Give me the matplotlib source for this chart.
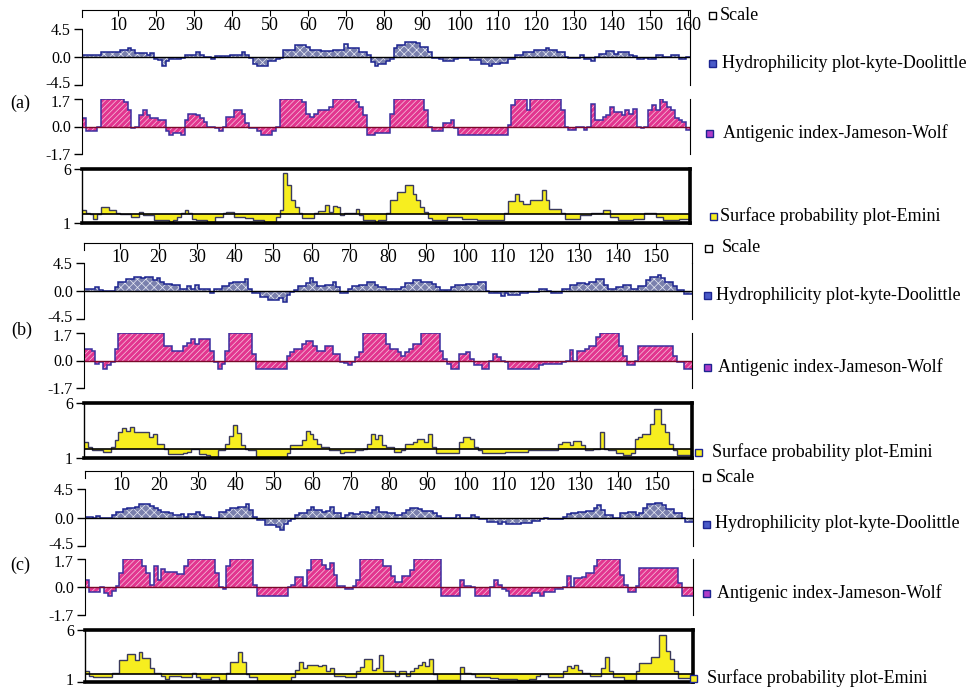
import numpy as np
import matplotlib.pyplot as plt
from matplotlib.transforms import ScaledTranslation

plt.rcParams['font.family'] = ['Liberation Serif', 'DejaVu Serif']
plt.rcParams['hatch.linewidth'] = 0.5

W, H = 972, 690

# residue-by-residue values
a_hyd = [0.4, 0.4, 0.4, 0.4, 0.4, 0.8, 0.8, 0.8, 0.8, 0.8,
         1.1, 1.1, 1.5, 1.1, 0.6, 0.6, 0.6, 0.3, 0.6, -0.3,
         -0.5, -1.4, -0.7, -0.3, -0.3, -0.3, -0.1, 0.3, 0.3, 0.3,
         0.8, 0.4, 0.0, 0.0, -0.3, 0.1, 0.1, 0.1, 0.1, 0.4,
         0.4, 0.4, 0.8, 0.4, -0.1, -1.1, -1.4, -1.4, -1.4, -0.7,
         -0.7, -0.3, -0.1, 1.1, 1.1, 1.1, 1.9, 1.9, 1.9, 1.6,
         1.1, 1.1, 1.1, 0.9, 0.9, 0.9, 1.1, 1.1, 1.1, 2.1,
         1.5, 1.5, 1.5, 0.8, 0.8, 0.3, -0.8, -1.5, -1.1, -1.1,
         -0.7, -0.3, 1.4, 1.9, 1.9, 2.4, 2.4, 2.4, 2.2, 1.6,
         1.6, 0.8, -0.1, -0.1, -0.4, -0.7, -0.7, -0.7, -0.4, -0.1,
         -0.1, -0.1, -0.5, -0.5, -0.5, -1.1, -1.1, -1.5, -1.1, -1.1,
         -1.0, -1.0, -0.4, -0.4, 0.3, 0.3, 0.8, 0.8, 0.8, 1.2,
         1.2, 1.2, 1.4, 1.2, 1.2, 0.8, 0.8, 0.0, -0.1, -0.1,
         -0.1, 0.3, -0.3, -0.3, -0.7, 0.0, 0.5, 0.5, 1.0, 1.0,
         0.5, 0.8, 0.8, 0.8, 0.4, 0.1, -0.4, -0.4, -0.1, -0.3,
         -0.3, 0.3, 0.3, 0.0, 0.0, 0.3, 0.3, -0.3, -0.3, 0.0]
a_ant = [0.5, -0.3, -0.3, -0.3, 0.0, 1.7, 1.7, 1.7, 1.7, 1.7,
         1.7, 1.5, 1.0, -0.1, 0.0, 0.7, 1.0, 0.7, 0.5, 0.5,
         0.4, 0.4, -0.3, -0.5, -0.4, -0.4, -0.5, 0.4, 0.8, 0.8,
         0.7, 0.5, 0.3, 0.0, 0.0, -0.1, -0.3, 0.0, 0.6, 0.6,
         1.0, 1.0, 0.8, 0.2, -0.1, -0.1, -0.3, -0.5, -0.5, -0.5,
         -0.3, 0.0, 1.7, 1.7, 1.7, 1.7, 1.7, 1.7, 1.5, 0.8,
         0.6, 0.8, 1.0, 1.0, 1.0, 1.2, 1.7, 1.7, 1.7, 1.7,
         1.7, 1.7, 1.5, 1.2, 0.7, -0.5, -0.5, -0.4, -0.4, -0.4,
         -0.4, 0.8, 1.7, 1.7, 1.7, 1.7, 1.7, 1.7, 1.7, 1.7,
         1.0, 0.0, -0.3, -0.3, -0.3, 0.2, 0.2, 0.4, -0.1, -0.5,
         -0.5, -0.5, -0.5, -0.5, -0.5, -0.5, -0.5, -0.5, -0.5, -0.5,
         -0.5, -0.5, 0.1, 1.3, 1.7, 1.7, 1.7, 1.0, 1.7, 1.7,
         1.7, 1.7, 1.7, 1.7, 1.7, 1.7, 1.0, 0.0, -0.2, -0.2,
         0.0, 0.0, -0.2, 0.0, 1.4, 0.4, 0.4, 0.6, 0.7, 1.2,
         0.9, 0.9, 0.7, 1.0, 0.8, 1.1, 0.0, -0.1, 0.0, 1.0,
         1.3, 1.0, 1.7, 1.5, 1.2, 1.0, 0.5, 0.4, 0.3, -0.2]
a_sur = [2.2, 1.9, 1.8, 1.4, 1.8, 2.5, 2.5, 2.2, 2.2, 1.9,
         1.8, 1.8, 1.8, 1.6, 1.6, 2.0, 1.7, 1.7, 1.7, 1.25,
         1.25, 1.25, 1.25, 1.1, 1.25, 1.6, 1.9, 2.2, 1.9, 1.4,
         1.25, 1.25, 1.25, 1.1, 1.1, 1.6, 1.6, 1.9, 2.0, 2.0,
         1.6, 1.6, 1.6, 1.5, 1.5, 1.25, 1.25, 1.25, 1.1, 1.1,
         1.1, 1.6, 2.2, 5.6, 4.5, 3.1, 2.5, 1.9, 1.5, 1.5,
         1.5, 1.9, 2.1, 2.1, 2.7, 2.0, 2.6, 2.5, 1.7, 1.9,
         1.9, 1.9, 2.3, 1.7, 1.25, 1.25, 1.25, 1.0, 1.25, 1.25,
         1.9, 3.1, 3.1, 3.9, 3.9, 4.5, 4.5, 3.7, 3.1, 2.5,
         2.0, 1.5, 1.25, 1.25, 1.25, 1.25, 1.6, 1.6, 1.6, 1.6,
         1.4, 1.4, 1.4, 1.4, 1.25, 1.25, 1.25, 1.25, 1.25, 1.25,
         1.25, 1.9, 3.0, 3.0, 3.7, 3.0, 2.8, 2.8, 3.1, 3.1,
         3.1, 4.1, 3.1, 2.3, 2.3, 2.3, 1.9, 1.4, 1.4, 1.4,
         1.4, 1.7, 1.7, 1.7, 1.9, 1.9, 1.9, 2.2, 2.2, 1.6,
         1.6, 1.25, 1.25, 1.25, 1.25, 1.4, 1.4, 1.4, 1.9, 1.9,
         1.9, 1.6, 1.6, 1.25, 1.25, 1.25, 1.25, 1.4, 1.4, 1.4]

b_hyd = [0.3, 0.3, 0.3, 0.7, 0.2, 0.0, 0.0, 0.0, 0.7, 1.5,
         1.5, 1.9, 1.9, 2.2, 2.2, 2.1, 2.3, 2.3, 1.8, 2.1,
         1.5, 1.1, 1.1, 0.9, 0.9, 0.4, 0.4, 0.8, 0.4, 1.0,
         0.3, 0.3, 0.3, -0.4, 0.4, 0.4, 0.8, 0.8, 1.25, 1.5,
         1.5, 1.4, 1.9, 0.4, -0.4, -0.4, -0.9, -0.9, -1.5, -1.5,
         -1.5, -1.2, -1.7, -0.7, -0.1, 0.2, 0.8, 0.8, 1.25, 2.1,
         1.4, 0.8, 0.8, 1.0, 1.0, 1.4, 0.7, -0.3, -0.3, 0.4,
         0.8, 0.8, 1.0, 1.0, 1.4, 1.4, 1.0, 0.6, 0.6, 0.4,
         0.4, 0.3, 0.3, 0.7, 1.25, 1.25, 1.8, 1.8, 1.5, 1.4,
         1.4, 1.1, 0.6, 0.2, 0.2, 0.2, 0.7, 1.0, 1.0, 1.0,
         1.1, 1.1, 1.1, 1.4, 1.4, 0.0, -0.4, -0.4, -0.4, -0.8,
         -0.4, -0.65, -0.65, -0.65, -0.4, -0.4, -0.1, -0.1, -0.1, 0.3,
         0.3, 0.0, -0.3, -0.3, -0.3, 0.4, 0.4, 1.0, 1.0, 1.25,
         1.25, 1.1, 1.4, 1.4, 1.9, 1.9, 1.0, 0.3, 0.3, 0.6,
         0.6, 1.0, 1.0, 0.4, 0.4, 0.8, 0.8, 1.8, 2.3, 2.3,
         2.5, 2.1, 1.4, 1.4, 0.8, 0.2, 0.2, -0.5, -0.5]
b_ant = [0.7, 0.7, 0.6, -0.2, -0.1, -0.5, -0.3, -0.1, 0.7, 1.7,
         1.7, 1.7, 1.7, 1.7, 1.7, 1.7, 1.7, 1.7, 1.7, 1.7,
         1.7, 0.9, 0.9, 0.6, 0.6, 0.6, 0.9, 1.1, 1.35, 1.0,
         1.3, 1.3, 1.3, 0.6, -0.1, -0.5, -0.2, 0.6, 1.7, 1.7,
         1.7, 1.7, 1.7, 1.7, 0.4, -0.5, -0.5, -0.5, -0.5, -0.5,
         -0.5, -0.5, -0.5, 0.25, 0.5, 0.7, 0.7, 1.0, 1.2, 1.2,
         0.9, 0.6, 0.6, 0.9, 0.9, 0.4, 0.4, -0.1, -0.15, -0.3,
         -0.1, 0.2, 0.5, 1.7, 1.7, 1.7, 1.7, 1.7, 1.7, 1.0,
         0.7, 0.7, 0.5, 0.3, 0.5, 0.7, 1.0, 1.0, 1.7, 1.7,
         1.7, 1.7, 1.7, 0.6, 0.1, -0.2, -0.5, -0.5, 0.4, 0.4,
         0.5, 0.1, -0.3, -0.3, -0.5, -0.5, 0.0, 0.4, 0.2, 0.0,
         -0.1, -0.5, -0.5, -0.5, -0.5, -0.5, -0.5, -0.5, -0.5, -0.3,
         -0.2, -0.2, -0.2, -0.2, -0.2, -0.1, 0.0, 0.65, 0.0, 0.6,
         0.6, 0.7, 0.9, 0.9, 1.45, 1.7, 1.7, 1.7, 1.7, 1.7,
         0.9, 0.3, -0.25, -0.25, 0.0, 0.9, 0.9, 0.9, 0.9, 0.9,
         0.9, 0.9, 0.9, 0.9, 0.3, -0.1, -0.1, -0.5, -0.5]
b_sur = [2.45, 2.0, 1.7, 1.7, 1.7, 1.55, 1.55, 2.0, 2.6, 3.4,
         3.7, 3.5, 3.8, 3.4, 3.4, 3.4, 3.4, 2.9, 3.2, 2.3,
         2.3, 1.85, 1.4, 1.4, 1.4, 1.4, 1.45, 1.55, 1.85, 1.85,
         1.4, 1.4, 1.3, 1.1, 1.1, 1.7, 1.7, 2.3, 3.0, 4.0,
         3.3, 2.15, 1.85, 1.75, 1.75, 1.0, 1.0, 1.0, 1.0, 1.0,
         1.0, 1.0, 1.0, 1.45, 2.15, 2.15, 2.15, 2.6, 3.5, 3.2,
         2.75, 2.3, 2.0, 2.0, 1.7, 1.7, 1.7, 1.45, 1.55, 1.55,
         1.55, 1.7, 1.7, 1.85, 2.3, 3.15, 2.75, 3.05, 2.15, 2.0,
         2.0, 1.55, 1.55, 1.7, 2.3, 2.3, 2.45, 2.75, 2.75, 2.45,
         3.2, 2.0, 1.45, 1.45, 1.45, 1.45, 1.45, 1.45, 2.45, 2.9,
         2.9, 2.75, 2.0, 1.7, 1.45, 1.45, 1.45, 1.45, 1.45, 1.45,
         1.55, 1.55, 1.55, 1.55, 1.55, 1.55, 1.7, 1.7, 1.7, 1.7,
         1.7, 1.7, 1.7, 1.7, 2.3, 2.45, 2.45, 2.15, 2.55, 2.55,
         2.15, 1.7, 1.7, 1.85, 1.85, 3.35, 1.85, 1.7, 1.7, 1.45,
         1.45, 1.25, 1.25, 1.45, 2.75, 2.9, 3.2, 3.2, 4.1, 5.5,
         5.5, 4.1, 3.35, 2.3, 1.7, 1.3, 1.3, 1.3, 1.3]

c_hyd = [0.1, 0.1, -0.15, 0.2, -0.15, -0.15, -0.15, 0.4, 0.9, 0.9,
         1.3, 1.45, 1.45, 1.7, 2.1, 2.1, 2.1, 1.8, 1.45, 1.2,
         0.9, 0.9, 0.65, 0.4, 0.4, 0.5, 0.1, 0.5, 0.5, 0.9,
         0.4, 0.1, 0.1, -0.15, 0.0, 0.9, 0.9, 1.2, 1.45, 1.45,
         1.7, 1.7, 2.1, 1.2, 0.1, -0.4, -0.4, -1.2, -1.2, -1.2,
         -1.5, -1.9, -1.0, -0.5, -0.3, 0.4, 0.65, 0.65, 1.2, 1.7,
         1.2, 1.2, 0.9, 1.1, 1.6, 0.65, 0.65, 0.0, 0.4, 0.65,
         0.5, 0.5, 0.9, 0.9, 0.65, 1.2, 1.7, 0.9, 0.9, 0.65,
         0.65, 0.4, 0.4, 0.75, 1.2, 1.45, 1.45, 1.3, 1.1, 1.1,
         1.1, 0.75, 0.2, 0.0, 0.0, 0.0, 0.0, 0.4, 0.0, 0.0,
         -0.15, 0.4, 0.1, -0.3, -0.3, -0.7, -0.7, -0.7, -1.1, -0.7,
         -1.1, -1.1, -1.0, -1.0, -0.85, -0.85, -0.85, -0.5, -0.5, -0.3,
         0.0, -0.3, -0.3, -0.3, -0.3, 0.1, 0.5, 0.75, 0.75, 0.9,
         0.9, 1.1, 1.1, 1.45, 2.0, 1.2, 0.4, 0.4, 0.0, 0.0,
         0.75, 0.75, 0.9, 0.9, 0.4, 0.75, 1.45, 2.1, 2.1, 2.35,
         2.35, 2.0, 1.3, 1.3, 0.65, 0.65, 0.0, -0.7, -0.7]
c_ant = [0.45, -0.3, -0.3, -0.3, 0.0, -0.35, -0.55, -0.25, 0.05, 0.85,
         1.7, 1.7, 1.7, 1.7, 1.7, 1.25, 0.85, 0.15, 1.25, 0.45,
         1.1, 0.9, 0.9, 0.9, 0.8, 0.8, 1.25, 1.7, 1.7, 1.7,
         1.7, 1.7, 1.7, 1.7, 0.85, 0.0, -0.1, 1.25, 1.7, 1.7,
         1.7, 1.7, 1.7, 1.7, 0.1, -0.55, -0.55, -0.55, -0.55, -0.55,
         -0.55, -0.55, -0.55, 0.0, 0.15, 0.6, 0.6, 0.05, 1.05, 1.7,
         1.7, 1.7, 1.35, 1.1, 1.45, 0.75, 0.05, 0.05, -0.1, -0.1,
         0.05, 0.45, 1.7, 1.7, 1.7, 1.7, 1.7, 1.7, 1.3, 1.3,
         0.65, 0.3, 0.3, 0.65, 0.65, 1.05, 1.7, 1.7, 1.7, 1.7,
         1.7, 1.7, 1.7, -0.55, -0.55, -0.55, -0.55, -0.55, 0.4, 0.05,
         0.05, 0.0, -0.55, -0.55, -0.55, -0.55, 0.0, 0.4, 0.15, -0.1,
         -0.25, -0.55, -0.55, -0.55, -0.55, -0.55, -0.55, -0.35, -0.35, -0.55,
         -0.3, -0.3, -0.3, -0.15, -0.15, 0.0, 0.65, 0.0, 0.55, 0.55,
         0.6, 0.85, 0.85, 1.25, 1.7, 1.7, 1.7, 1.7, 1.7, 1.7,
         0.75, 0.1, -0.3, -0.3, 0.05, 1.15, 1.15, 1.15, 1.15, 1.15,
         1.15, 1.15, 1.15, 1.15, 1.15, 0.25, -0.55, -0.55, -0.55]
c_sur = [2.05, 1.6, 1.45, 1.45, 1.45, 1.45, 1.45, 1.9, 1.9, 3.1,
         3.1, 3.65, 3.65, 3.1, 3.9, 3.3, 3.3, 2.35, 1.9, 1.9,
         1.6, 1.3, 1.6, 1.6, 1.6, 1.45, 1.45, 1.45, 1.9, 1.45,
         1.3, 1.3, 1.3, 1.5, 1.5, 1.15, 1.15, 1.9, 2.95, 2.95,
         3.9, 2.95, 1.75, 1.45, 1.45, 1.1, 1.1, 1.1, 1.1, 1.1,
         1.1, 1.1, 1.1, 1.1, 1.45, 2.2, 2.9, 2.35, 2.65, 2.65,
         2.65, 2.5, 2.65, 2.05, 2.35, 1.6, 1.6, 1.6, 1.45, 1.45,
         1.45, 2.05, 2.4, 3.25, 3.25, 2.2, 2.35, 3.6, 2.05, 2.05,
         2.05, 1.6, 2.05, 2.05, 1.6, 2.05, 2.3, 2.65, 2.95, 2.5,
         3.2, 1.75, 1.2, 1.2, 1.2, 1.2, 1.2, 1.2, 2.4, 1.9,
         1.9, 1.75, 1.45, 1.45, 1.45, 1.45, 1.35, 1.35, 1.3, 1.3,
         1.3, 1.3, 1.3, 1.2, 1.2, 1.2, 1.3, 1.3, 1.6, 1.75,
         1.75, 1.45, 1.45, 1.45, 1.45, 2.05, 2.5, 2.35, 2.65, 2.2,
         1.9, 1.9, 1.6, 1.6, 1.6, 2.35, 3.4, 2.05, 1.5, 1.45,
         1.45, 1.15, 1.15, 1.15, 2.05, 2.8, 2.8, 2.8, 3.4, 3.4,
         5.55, 5.55, 4.0, 3.25, 2.05, 1.35, 1.35, 1.35, 1.35]

panel_tags = ['(a)', '(b)', '(c)']
legend_labels = ['Scale', 'Hydrophilicity plot-kyte-Doolittle',
                 'Antigenic index-Jameson-Wolf', 'Surface probability plot-Emini']
scale_ticks = [list(range(10, 161, 10)), list(range(10, 151, 10)), list(range(10, 151, 10))]
emini_cut = 1.8

# pixel layout of each panel (left, right, scale line, hydro top/bottom, antigenic, surface)
layouts = [
    dict(x=(82, 690), scale=10, hyd=(29, 85), ant=(99, 154), sur=(169, 223), tag=(20, 103),
         leg=[(712, 15, 720), (712, 63, 722), (709, 133, 723), (713, 216, 720)]),
    dict(x=(84, 692), scale=243, hyd=(263, 319), ant=(333, 388), sur=(403, 458), tag=(22, 330),
         leg=[(708, 248, 722), (707, 295, 716), (707, 367, 718), (698, 452, 712)]),
    dict(x=(85, 693), scale=471, hyd=(489, 546), ant=(559, 615), sur=(630, 682), tag=(20, 565),
         leg=[(706, 477, 716), (706, 524, 715), (706, 593, 717), (693, 678, 707)]),
]

FS = 13
TICK_FS = 11.5
NAVY = '#1c2490'


def px_axes(fig, x0, y0, x1, y1):
    return fig.add_axes([x0 / W, 1 - y1 / H, (x1 - x0) / W, (y1 - y0) / H])


def nudge_label(fig, ax, idx, dy_px):
    # shift one y tick label a few pixels so neighbouring labels don't collide
    lab = ax.yaxis.get_major_ticks()[idx].label1
    lab.set_transform(lab.get_transform() + ScaledTranslation(0, dy_px / 100, fig.dpi_scale_trans))


def style_value_axis(ax, n, lim, ticks, labels):
    ax.set_xlim(0.5, n + 0.5)
    ax.set_ylim(*lim)
    ax.set_xticks([])
    ax.set_yticks(ticks)
    ax.set_yticklabels(labels)
    ax.tick_params(axis='y', direction='out', length=6, width=1, pad=2, labelsize=TICK_FS)
    ax.patch.set_alpha(0)


def draw_panel(fig, hyd, ant, sur, lay, ticks):
    n = len(hyd)
    edges = np.arange(n + 1) + 0.5
    x0, x1 = lay['x']

    # residue scale along the top
    sh = lay['hyd'][0] - lay['scale']
    ax = px_axes(fig, x0, lay['scale'], x1, lay['hyd'][0])
    ax.set_xlim(0.5, n + 0.5)
    ax.set_ylim(0, 1)
    ax.set_yticks([])
    ax.set_xticks(ticks)
    ax.tick_params(axis='x', top=True, bottom=False, direction='in', length=4,
                   labelbottom=False, labeltop=False)
    ax.spines['bottom'].set_visible(False)
    ax.spines['left'].set_bounds(1 - 7 / sh, 1)
    ax.patch.set_alpha(0)
    for t in ticks:
        ax.text(t, 1 - 15 / sh, str(t), ha='center', va='center', fontsize=FS)

    # hydrophilicity
    ax = px_axes(fig, x0, lay['hyd'][0], x1, lay['hyd'][1])
    ax.stairs(hyd, edges, baseline=0, fill=True, facecolor='#7a80ad',
              edgecolor='#e8eaf4', hatch='xxxx', linewidth=0)
    ax.stairs(hyd, edges, baseline=None, color=NAVY, linewidth=1.1)
    ax.axhline(0, color='black', linewidth=1)
    style_value_axis(ax, n, (-4.5, 4.5), [-4.5, 0, 4.5], ['-4.5', '0.0', '4.5'])
    ax.spines['top'].set_visible(False)
    ax.spines['bottom'].set_visible(False)
    nudge_label(fig, ax, 0, 3)

    # antigenic index
    ax = px_axes(fig, x0, lay['ant'][0], x1, lay['ant'][1])
    ax.stairs(ant, edges, baseline=0, fill=True, facecolor='#e2358f',
              edgecolor='#f6c8e0', hatch='//////', linewidth=0)
    ax.stairs(ant, edges, baseline=None, color='#3a2fa0', linewidth=1.1)
    ax.axhline(0, color='#7a0a2a', linewidth=1)
    style_value_axis(ax, n, (-1.7, 1.7), [-1.7, 0, 1.7], ['-1.7', '0.0', '1.7'])
    ax.spines['top'].set_visible(False)
    ax.spines['bottom'].set_visible(False)
    nudge_label(fig, ax, 2, -2)

    # surface probability
    ax = px_axes(fig, x0, lay['sur'][0], x1, lay['sur'][1])
    ax.stairs(sur, edges, baseline=emini_cut, fill=True, facecolor='#f7ee1f', linewidth=0)
    ax.stairs(sur, edges, baseline=None, color='#3a3a5c', linewidth=1)
    ax.axhline(emini_cut, color='black', linewidth=1.2)
    style_value_axis(ax, n, (1, 6), [1, 6], ['1', '6'])
    for side in ['top', 'right', 'bottom']:
        ax.spines[side].set_linewidth(2.6)
    ax.spines['left'].set_linewidth(1)
    if lay['sur'][1] > H - 10:
        nudge_label(fig, ax, 0, 3)


fig = plt.figure(figsize=(W / 100, H / 100), dpi=100)

series = [(a_hyd, a_ant, a_sur), (b_hyd, b_ant, b_sur), (c_hyd, c_ant, c_sur)]
for (hyd, ant, sur), lay, ticks in zip(series, layouts, scale_ticks):
    draw_panel(fig, hyd, ant, sur, lay, ticks)

# overlay in pixel coords for the panel tags and the legend keys
ov = fig.add_axes([0, 0, 1, 1])
ov.set_xlim(0, W)
ov.set_ylim(H, 0)
ov.axis('off')
key_faces = ['white', '#4a5ac8', '#b03cc8', '#f7ee1f']
key_edges = ['black', NAVY, NAVY, NAVY]
for lay, tag in zip(layouts, panel_tags):
    ov.text(lay['tag'][0], lay['tag'][1], tag, ha='center', va='center', fontsize=FS)
    for (kx, ky, tx), label, fc, ec in zip(lay['leg'], legend_labels, key_faces, key_edges):
        ov.add_patch(plt.Rectangle((kx - 3.5, ky - 3.5), 7, 7, facecolor=fc,
                                   edgecolor=ec, linewidth=1))
        ov.text(tx, ky, label, ha='left', va='center', fontsize=FS)

fig.savefig('out.png', dpi=100)
